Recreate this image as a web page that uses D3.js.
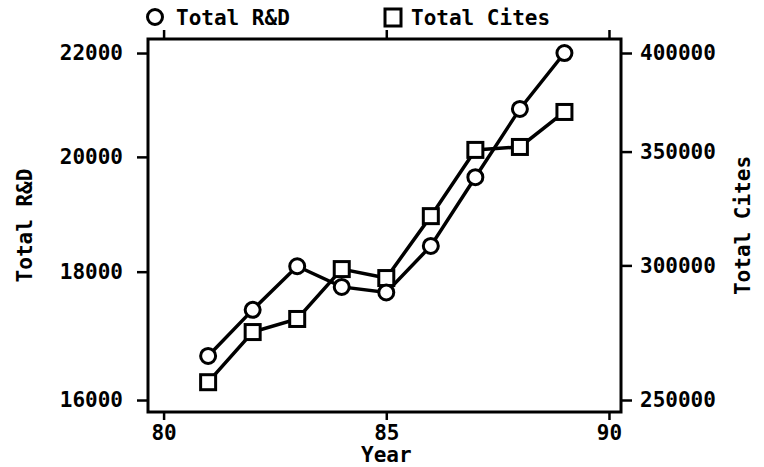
<!DOCTYPE html>
<meta charset="utf-8">
<script src="https://d3js.org/d3.v7.min.js"></script>
<style>
  body { margin: 0; background: #fff; }
  text { font-family: "DejaVu Sans Mono", monospace; font-weight: bold; fill: #000; }
</style>
<div id="chart"></div>
<script>
    // data
    var years = [81, 82, 83, 84, 85, 86, 87, 88, 89];
    var totalRD = [16660, 17380, 18090, 17750, 17660, 18430, 19630, 20900, 22000];
    var totalCites = [256100, 274100, 279000, 298500, 294900, 320700, 350800, 352200, 369300];
    var xTicks = [80, 85, 90];
    var leftTicks = [16000, 18000, 20000, 22000];
    var rightTicks = [250000, 300000, 350000, 400000];

    var W = 764, H = 467;
    var box = {left: 148, right: 621, top: 39, bottom: 412};

    var svg = d3.select("#chart").append("svg")
        .attr("width", W).attr("height", H);

    var x = d3.scaleLinear().domain([79.65, 90.27]).range([box.left, box.right]);
    var yL = d3.scaleLog().domain([15825, 22285]).range([box.bottom, box.top]);
    var yR = d3.scaleLog().domain([245970, 407660]).range([box.bottom, box.top]);

    var fs = "21px";

    // axes
    var gB = svg.append("g").attr("transform", "translate(0," + box.bottom + ")")
        .call(d3.axisBottom(x).tickValues(xTicks).tickSize(8).tickPadding(5).tickFormat(d3.format("d")));
    var gT = svg.append("g").attr("transform", "translate(0," + box.top + ")")
        .call(d3.axisTop(x).tickValues(xTicks).tickSize(9).tickFormat(""));
    var gL = svg.append("g").attr("transform", "translate(" + box.left + ",0)")
        .call(d3.axisLeft(yL).tickValues(leftTicks).tickSize(11).tickPadding(14).tickFormat(d3.format("d")));
    var gR = svg.append("g").attr("transform", "translate(" + box.right + ",0)")
        .call(d3.axisRight(yR).tickValues(rightTicks).tickSize(11).tickPadding(8).tickFormat(d3.format("d")));

    [gB, gT, gL, gR].forEach(function(g) {
      g.select(".domain").remove();
      g.selectAll(".tick line").attr("stroke", "#000").attr("stroke-width", 2.5);
      g.selectAll(".tick text").style("font-size", fs).attr("fill", "#000");
    });

    // plot frame
    svg.append("rect")
        .attr("x", box.left).attr("y", box.top)
        .attr("width", box.right - box.left).attr("height", box.bottom - box.top)
        .attr("fill", "none").attr("stroke", "#000").attr("stroke-width", 3);

    // axis titles
    svg.append("text").attr("x", x(85)).attr("y", 462)
        .attr("text-anchor", "middle").style("font-size", fs).text("Year");
    svg.append("text").attr("transform", "translate(32," + (box.top + box.bottom) / 2 + ") rotate(-90)")
        .attr("text-anchor", "middle").style("font-size", fs).text("Total R&D");
    svg.append("text").attr("transform", "translate(750," + (box.top + box.bottom) / 2 + ") rotate(-90)")
        .attr("text-anchor", "middle").style("font-size", fs).text("Total Cites");

    // lines
    var lineL = d3.line().x(function(d, i) { return x(years[i]); }).y(function(d) { return yL(d); });
    var lineR = d3.line().x(function(d, i) { return x(years[i]); }).y(function(d) { return yR(d); });

    svg.append("path").datum(totalRD).attr("d", lineL)
        .attr("fill", "none").attr("stroke", "#000").attr("stroke-width", 3.5);
    svg.append("path").datum(totalCites).attr("d", lineR)
        .attr("fill", "none").attr("stroke", "#000").attr("stroke-width", 3.5);

    // markers
    var sq = 15;
    svg.selectAll(".sq").data(totalCites).enter().append("rect")
        .attr("x", function(d, i) { return x(years[i]) - sq / 2; })
        .attr("y", function(d) { return yR(d) - sq / 2; })
        .attr("width", sq).attr("height", sq)
        .attr("fill", "#fff").attr("stroke", "#000").attr("stroke-width", 3);
    svg.selectAll(".ci").data(totalRD).enter().append("circle")
        .attr("cx", function(d, i) { return x(years[i]); })
        .attr("cy", function(d) { return yL(d); })
        .attr("r", 7.5)
        .attr("fill", "#fff").attr("stroke", "#000").attr("stroke-width", 3);

    // legend above the plot
    svg.append("circle").attr("cx", 155).attr("cy", 17).attr("r", 7.5)
        .attr("fill", "#fff").attr("stroke", "#000").attr("stroke-width", 3);
    svg.append("text").attr("x", 176).attr("y", 25).style("font-size", fs).text("Total R&D");
    svg.append("rect").attr("x", 385).attr("y", 9).attr("width", 16).attr("height", 17)
        .attr("fill", "#fff").attr("stroke", "#000").attr("stroke-width", 3);
    svg.append("text").attr("x", 411).attr("y", 25).style("font-size", fs).text("Total Cites");
</script>
